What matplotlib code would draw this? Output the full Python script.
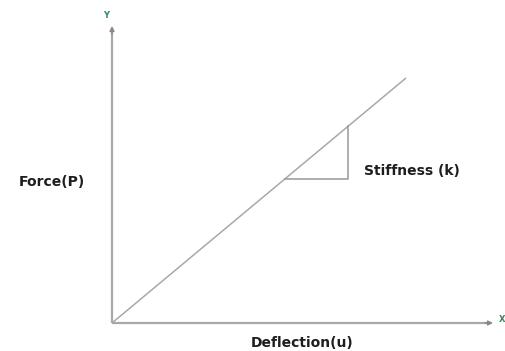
import matplotlib
matplotlib.use("Agg")
import matplotlib.pyplot as plt

# Data (arbitrary units, origin at the axes corner)
deflection = [0, 294]
force = [0, 245]
tri_u = [173, 236]          # triangle horizontal extent
axis_x_end = 381
axis_y_end = 297
labels = {"x": "Deflection(u)", "y": "Force(P)", "k": "Stiffness (k)"}

k = force[1] / deflection[1]

fig = plt.figure(figsize=(5.05, 3.51), dpi=100)
ax = fig.add_axes([0, 0, 1, 1])
ax.set_xlim(-112, 393)
ax.set_ylim(-28, 323)
ax.axis("off")

gray = "#a8a8a8"
head = "#888888"
# axes with arrows
ax.plot([0, axis_x_end - 5], [0, 0], color=gray, lw=1.6, solid_capstyle="butt")
ax.plot([0, 0], [0, axis_y_end - 5], color=gray, lw=1.6, solid_capstyle="butt")
ax.annotate("", xy=(axis_x_end, 0), xytext=(axis_x_end - 8, 0),
            arrowprops=dict(arrowstyle="-|>", color=head, lw=1.0, mutation_scale=7, shrinkA=0, shrinkB=0))
ax.annotate("", xy=(0, axis_y_end), xytext=(0, axis_y_end - 8),
            arrowprops=dict(arrowstyle="-|>", color=head, lw=1.0, mutation_scale=7, shrinkA=0, shrinkB=0))

# force-deflection line
ax.plot(deflection, force, color=gray, lw=1.1, solid_capstyle="butt")

# stiffness triangle
u0, u1 = tri_u
p0, p1 = k * u0, k * u1
ax.plot([u0, u1, u1], [p0, p0, p1], color="#999999", lw=1.1)

fw = dict(fontweight="bold", fontsize=10, color="#1e1e1e", family="DejaVu Sans")
ax.text(u1 + 16, p0 + 8, labels["k"], ha="left", va="center", **fw)
ax.text(-60, 141, labels["y"], ha="center", va="center", **fw)
ax.text(190, -20, labels["x"], ha="center", va="center", **fw)

green = "#2e8b57"
ax.text(-6, 307, "Y", ha="center", va="center", fontsize=6, fontweight="bold", color=green)
ax.text(390, 4, "X", ha="center", va="center", fontsize=6, fontweight="bold", color=green)

fig.savefig("out.png", dpi=100, facecolor="white")
